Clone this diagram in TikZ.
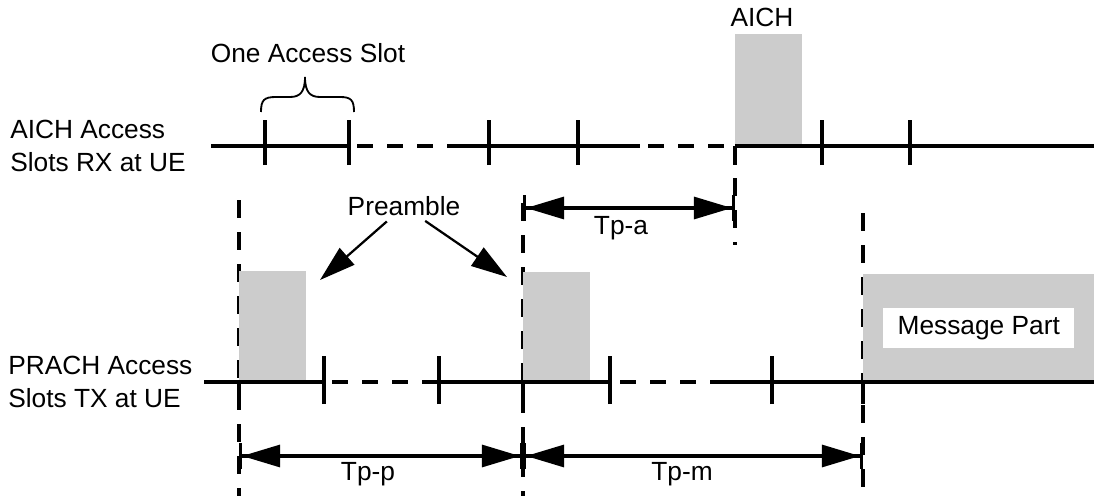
\documentclass[tikz,border=0pt]{standalone}
\usepackage{fontspec}
\setmainfont{Liberation Sans}
\usetikzlibrary{arrows.meta, positioning}

\begin{document}
\begin{tikzpicture}[
  txt/.style={font=\fontsize{18.7}{23.5}\selectfont, inner sep=1pt},
  rowlabel/.style={txt, align=left, anchor=west, inner sep=0pt},
  slotbox/.style={rectangle, fill=gray!40, draw=none, anchor=south west, inner sep=0pt},
  axis/.style={line width=2.4pt},
  gapline/.style={line width=2.4pt, dash pattern=on 0.4cm off 0.35cm, dash phase=0.55cm},
  tick/.style={line width=2.2pt},
  guide/.style={line width=2.2pt, dash pattern=on 0.45cm off 0.35cm},
  slotbrace/.style={line width=1.3pt},
  span/.style={line width=2.2pt,
    {Bar[width=0.65cm]Triangle[length=0.95cm,width=0.55cm]}-{Triangle[length=0.95cm,width=0.55cm]Bar[width=0.65cm]}},
  pointer/.style={line width=1.6pt, shorten <=4pt, -{Triangle[length=0.9cm,width=0.55cm]}}
]
\useasboundingbox (0,0) rectangle (27.35,12.4);

% Guides
\draw[guide] (5.975,7.4) -- (5.975,0);
\draw[guide] (13.075,7.325) -- (13.075,0);
\draw[guide] (21.575,7.075) -- (21.575,0);
\draw[guide] (18.375,8.75) -- (18.375,6.275);

% Bursts
\node[slotbox, minimum width=1.675cm, minimum height=2.8cm] (aich) at (18.375,8.75) {};
\node[slotbox, minimum width=1.675cm, minimum height=2.775cm] (pre1) at (5.975,2.85) {};
\node[slotbox, minimum width=1.675cm, minimum height=2.75cm] (pre2) at (13.075,2.85) {};
\node[slotbox, minimum width=5.775cm, minimum height=2.7cm] (msg) at (21.575,2.85) {};
\node[txt, fill=white, minimum width=4.78cm, minimum height=1cm] (lblmsg) at (msg) {Message Part};

% AICH row
\draw[axis] (5.275,8.75) -- (8.725,8.75);
\draw[gapline] (8.725,8.75) -- (11.2,8.75);
\draw[axis] (11.2,8.75) -- (16.0,8.75);
\draw[gapline] (16.0,8.75) -- (18.375,8.75);
\draw[axis] (18.375,8.75) -- (27.35,8.75);
\draw[tick] (6.625,8.275) -- (6.625,9.4) (8.725,8.275) -- (8.725,9.4)
  (12.225,8.275) -- (12.225,9.4) (14.45,8.275) -- (14.45,9.4)
  (20.55,8.275) -- (20.55,9.4) (22.75,8.275) -- (22.75,9.4)
  (18.375,8.75) -- (18.375,8.275);
\node[rowlabel] (rx) at (0.25,8.75) {AICH Access\\Slots RX at UE};
\node[txt, above=0.12cm of aich, xshift=-0.17cm] (lblaich) {AICH};

% Slot brace
\draw[slotbrace] (6.525,9.6) .. controls (6.525,9.9) and (6.6,9.975) .. (6.9,9.975)
  -- (7.25,9.975) .. controls (7.5,9.975) and (7.625,10.1) .. (7.625,10.475)
  .. controls (7.625,10.1) and (7.75,9.975) .. (8.0,9.975)
  -- (8.5,9.975) .. controls (8.775,9.975) and (8.85,9.9) .. (8.85,9.6);
\node[txt] (lblslot) at (7.7,11.075) {One Access Slot};

% PRACH row
\draw[axis] (5.1,2.85) -- (8.1,2.85);
\draw[gapline] (8.1,2.85) -- (10.625,2.85);
\draw[axis] (10.625,2.85) -- (15.3,2.85);
\draw[gapline] (15.3,2.85) -- (18.075,2.85);
\draw[axis] (18.075,2.85) -- (27.35,2.85);
\draw[tick] (8.1,2.3) -- (8.1,3.5) (10.975,2.3) -- (10.975,3.5)
  (15.25,2.3) -- (15.25,3.5) (19.3,2.3) -- (19.3,3.5)
  (5.975,2.85) -- (5.975,2.3) (13.075,2.85) -- (13.075,2.3)
  (21.575,2.85) -- (21.575,2.3);
\node[rowlabel] (tx) at (0.2,2.85) {PRACH Access\\Slots TX at UE};

% Preamble pointers
\node[txt] (lblpre) at (10.1,7.24) {Preamble};
\coordinate (pt1) at (8.0,5.4);
\coordinate (pt2) at (12.675,5.475);
\draw[pointer] (lblpre) -- (pt1);
\draw[pointer] (lblpre) -- (pt2);

% Timing spans
\coordinate (tpa1) at (13.075,7.2);
\coordinate (tpa2) at (18.375,7.2);
\coordinate (tpp1) at (5.975,1.0);
\coordinate (tpp2) at (13.075,1.0);
\coordinate (tpm2) at (21.575,1.0);
\draw[span] (tpa1) -- (tpa2);
\draw[span] (tpp1) -- (tpp2);
\draw[span] (tpp2) -- (tpm2);
\node[txt] (lbltpa) at (15.525,6.7) {Tp-a};
\node[txt] (lbltpp) at (9.2,0.55) {Tp-p};
\node[txt] (lbltpm) at (17.05,0.55) {Tp-m};

\end{tikzpicture}
\end{document}
